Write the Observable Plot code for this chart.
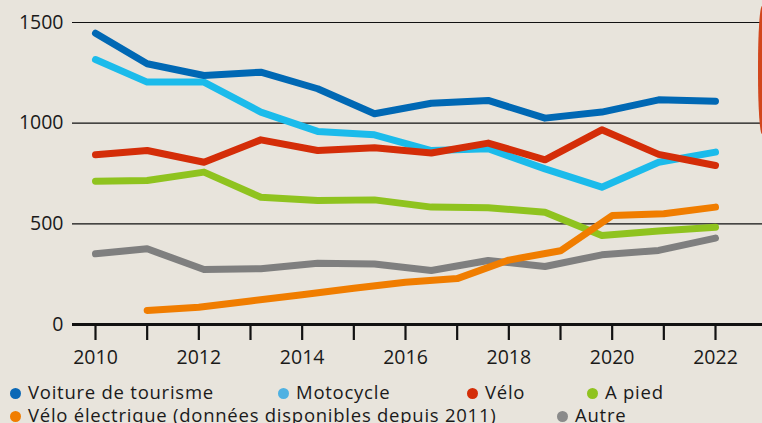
<!DOCTYPE html>
<html>
<head>
<meta charset="utf-8">
<script src="https://cdn.jsdelivr.net/npm/d3@7"></script>
<script src="https://cdn.jsdelivr.net/npm/@observablehq/plot@0.6"></script>
<style>
  html, body { margin: 0; padding: 0; }
  body { width: 762px; height: 423px; background: #e8e4dc; position: relative; overflow: hidden; font-family: "Open Sans", sans-serif; color: #1a1a1a; }
  #chart { position: absolute; left: 0; top: 0; }
  .legend-item { position: absolute; font-size: 18.5px; line-height: 20px; letter-spacing: 0.75px; white-space: nowrap; }
  .legend-item .dot { position: absolute; left: -18px; top: 6px; width: 11px; height: 11px; border-radius: 50%; }
  #deco { position: absolute; left: 758px; top: 6px; width: 8px; height: 128px; background: #d2461c; border-radius: 4px 0 0 4px / 60px 0 0 60px; }
</style>
</head>
<body>
<div id="chart"></div>
<div id="deco"></div>
<div id="legend"></div>
<script>
// Series names
const seriesNames = ["Voiture de tourisme", "Motocycle", "Vélo", "A pied", "Vélo électrique (données disponibles depuis 2011)", "Autre"];
const seriesColors = ["#0068b4", "#1bbbeb", "#d42d08", "#8fc31f", "#f07d00", "#7f7f7f"];

// x positions of the 12 points for main series
const mainX = [2010, 2011, 2012.1, 2013.2, 2014.3, 2015.4, 2016.5, 2017.6, 2018.7, 2019.8, 2020.9, 2022];
// x positions for electric bikes
const elecX = [2011, 2012, 2013, 2014, 2015, 2016, 2017, 2018, 2019, 2020, 2021, 2022];

const voiture = [1447, 1295, 1237, 1253, 1171, 1047, 1099, 1113, 1025, 1055, 1116, 1109];
const moto    = [1316, 1204, 1204, 1055, 959, 942, 864, 873, 773, 682, 806, 856];
const velo    = [843, 864, 806, 917, 864, 878, 852, 901, 818, 967, 845, 790];
const apied   = [712, 715, 757, 632, 616, 619, 583, 580, 558, 442, 464, 483];
const veloElec = [70, 86, 117, 148, 180, 210, 228, 320, 366, 541, 550, 583];
const autre   = [351, 376, 273, 277, 304, 300, 268, 318, 288, 346, 368, 429];

const yTicks = [0, 500, 1000, 1500];
const gridValues = [500, 1000, 1500];
const xTickYears = [2010, 2011, 2012, 2013, 2014, 2015, 2016, 2017, 2018, 2019, 2020, 2021, 2022];

// Build long table (draw order: bottom first)
const order = [
  {name: seriesNames[5], xs: mainX, vs: autre},
  {name: seriesNames[3], xs: mainX, vs: apied},
  {name: seriesNames[4], xs: elecX, vs: veloElec},
  {name: seriesNames[1], xs: mainX, vs: moto},
  {name: seriesNames[2], xs: mainX, vs: velo},
  {name: seriesNames[0], xs: mainX, vs: voiture}
];
const rows = [];
for (const s of order) s.vs.forEach((v, i) => rows.push({series: s.name, x: s.xs[i], value: v}));

const plot = Plot.plot({
  width: 762,
  height: 372,
  marginLeft: 72,
  marginRight: 0,
  marginTop: 22,
  marginBottom: 48,
  style: {background: "transparent", fontFamily: "Open Sans, sans-serif", color: "#1a1a1a", overflow: "visible"},
  x: {domain: [2010, 2022], range: [95, 715]},
  y: {domain: [0, 1500]},
  color: {domain: seriesNames, range: seriesColors},
  marks: [
    Plot.ruleY(gridValues, {stroke: "#111", strokeWidth: 1.2}),
    Plot.axisY(yTicks, {tickSize: 0, tickPadding: 9, fontSize: 19.5, tickFormat: d => String(d), label: null, fill: "#1a1a1a"}),
    Plot.axisX(xTickYears, {tickSize: 16, tickPadding: 10, fontSize: 19.5, strokeWidth: 2.2, stroke: "#111",
      tickFormat: d => d % 2 === 0 ? String(d) : "", label: null, fill: "#1a1a1a"}),
    Plot.line(rows, {x: "x", y: "value", z: "series", stroke: "series", strokeWidth: 7, strokeLinecap: "round", strokeLinejoin: "round"}),
    Plot.ruleY([0], {stroke: "#111", strokeWidth: 3})
  ]
});
document.getElementById("chart").appendChild(plot);

// Legend
const legendPos = [
  {i: 0, left: 28, top: 382},
  {i: 1, left: 296, top: 382},
  {i: 2, left: 485, top: 382},
  {i: 3, left: 605, top: 382},
  {i: 4, left: 28, top: 404.5},
  {i: 5, left: 575, top: 404.5}
];
const legendColors = ["#0a68b6", "#4fb1e2", "#d42d08", "#8fc31f", "#f07d00", "#8a8a8a"];
const leg = document.getElementById("legend");
for (const p of legendPos) {
  const d = document.createElement("div");
  d.className = "legend-item";
  d.style.left = p.left + "px";
  d.style.top = p.top + "px";
  const dot = document.createElement("span");
  dot.className = "dot";
  dot.style.background = legendColors[p.i];
  d.appendChild(dot);
  d.appendChild(document.createTextNode(seriesNames[p.i]));
  leg.appendChild(d);
}
</script>
</body>
</html>
